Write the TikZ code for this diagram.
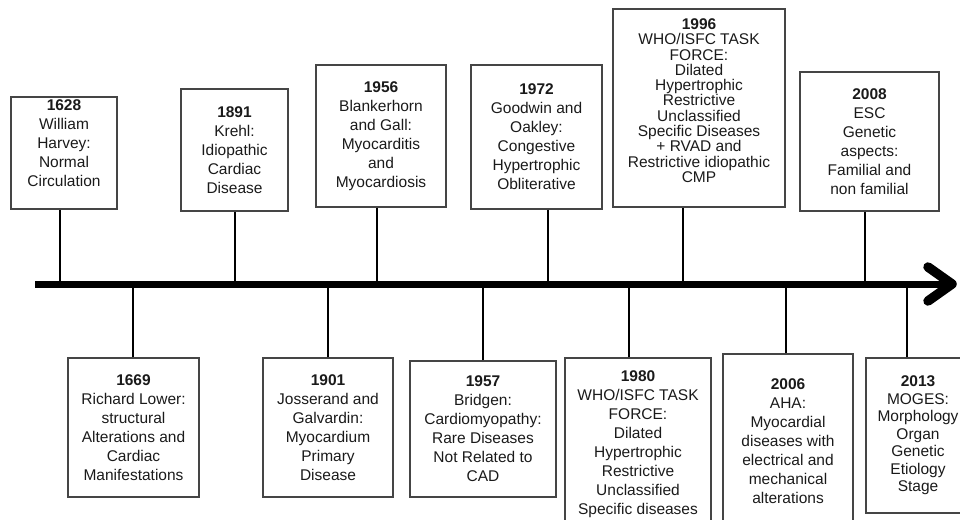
\documentclass[tikz,border=0pt]{standalone}
\usepackage{fontspec}
\setmainfont{Liberation Sans}
\usetikzlibrary{arrows.meta}
\definecolor{boxline}{HTML}{454545}
\definecolor{txt}{HTML}{1A1A1A}

\begin{document}
\begin{tikzpicture}[x=1pt,y=-1pt,
 ev/.style={draw=boxline,line width=1.1pt,inner sep=0pt,align=center,text=txt,font=\fontsize{15.5}{19}\selectfont},
 stem/.style={line width=2.8pt}]
\clip (0,0) rectangle (960,519);
% events above the axis
\node[ev,minimum width=106pt,minimum height=112pt,text depth=20pt] (t1) at (64,153) {\textbf{1628}\\William\\Harvey:\\Normal\\Circulation};
\node[ev,minimum width=107pt,minimum height=122pt] (t2) at (234.5,150) {\textbf{1891}\\Krehl:\\Idiopathic\\Cardiac\\Disease};
\node[ev,minimum width=130pt,minimum height=142pt] (t3) at (381,136) {\textbf{1956}\\Blankerhorn\\and Gall:\\Myocarditis\\and\\Myocardiosis};
\node[ev,minimum width=131pt,minimum height=144pt] (t4) at (536.5,137) {\textbf{1972}\\Goodwin and\\Oakley:\\Congestive\\Hypertrophic\\Obliterative};
\node[ev,minimum width=172pt,minimum height=198pt,font=\fontsize{15.5}{15.3}\selectfont,text depth=15pt] (t5) at (699,108) {\textbf{1996}\\WHO/ISFC TASK\\FORCE:\\Dilated\\Hypertrophic\\Restrictive\\Unclassified\\Specific Diseases\\+ RVAD and\\Restrictive idiopathic\\CMP};
\node[ev,minimum width=139pt,minimum height=139pt] (t6) at (869.5,141.5) {\textbf{2008}\\ESC\\Genetic\\aspects:\\Familial and\\non familial};
% events below the axis
\node[ev,minimum width=131pt,minimum height=139pt] (b1) at (133.5,427.5) {\textbf{1669}\\Richard Lower:\\structural\\Alterations and\\Cardiac\\Manifestations};
\node[ev,minimum width=130pt,minimum height=139pt] (b2) at (328,427.5) {\textbf{1901}\\Josserand and\\Galvardin:\\Myocardium\\Primary\\Disease};
\node[ev,minimum width=146pt,minimum height=136pt] (b3) at (483,429) {\textbf{1957}\\Bridgen:\\Cardiomyopathy:\\Rare Diseases\\Not Related to\\CAD};
\node[ev,minimum width=146pt,minimum height=172pt] (b4) at (638,444) {\textbf{1980}\\WHO/ISFC TASK\\FORCE:\\Dilated\\Hypertrophic\\Restrictive\\Unclassified\\Specific diseases};
\node[ev,minimum width=130pt,minimum height=174pt] (b5) at (788,441) {\textbf{2006}\\AHA:\\Myocardial\\diseases with\\electrical and\\mechanical\\alterations};
\node[ev,minimum width=104pt,minimum height=155pt,font=\fontsize{15.5}{17.5}\selectfont] (b6) at (918,435.5) {\textbf{2013}\\MOGES:\\Morphology\\Organ\\Genetic\\Etiology\\Stage};
% time axis
\coordinate (ax0) at (35,284);
\coordinate (ax1) at (952,284);
\draw[line width=7pt] (ax0) -- (ax1);
\draw[line width=9.5pt,line cap=round,line join=round] (928,267) -- (ax1) -- (928,301);
\foreach \n/\x in {t1/60,t2/235,t3/377,t4/548,t5/683,t6/865}
  \draw[stem] (\x,0 |- \n.south) -- (\x,284);
\foreach \n/\x in {b1/133,b2/328,b3/483,b4/629,b5/786,b6/907}
  \draw[stem] (\x,0 |- \n.north) -- (\x,284);
\end{tikzpicture}
\end{document}
